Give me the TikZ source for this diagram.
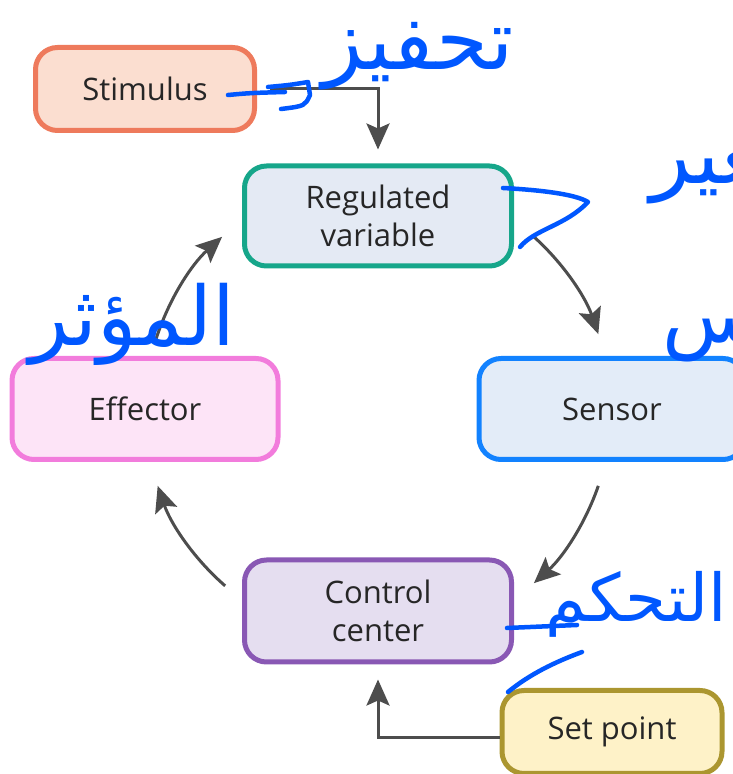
\documentclass[tikz,border=0pt]{standalone}
\usepackage{fontspec}
\setmainfont{Open Sans}
\newfontfamily\arabicfont[Script=Arabic]{DejaVu Sans}
\TeXXeTstate=1
\usetikzlibrary{arrows.meta}
\begin{document}
\begin{tikzpicture}[x=1pt, y=1pt, font=\fontsize{31}{38}\selectfont,
  box/.style={draw, line width=5pt, rounded corners=22pt, align=center,
    text=black!85, inner sep=0pt},
  arr/.style={draw=flow, line width=3pt,
    -{Stealth[length=26pt,width=23pt,inset=5pt]}},
  ink/.style={draw=pen, line width=4.5pt, line cap=round, line join=round},
  scrawl/.style={text=pen, inner sep=0pt}]
\definecolor{flow}{RGB}{77,77,77}
\definecolor{pen}{RGB}{0,87,255}
\clip (0,0) rectangle (733,774);
% the boxes of the loop
\node[box, fill={rgb,255:red,251;green,222;blue,208}, draw={rgb,255:red,238;green,122;blue,92},
  minimum width=219, minimum height=83] (stim) at (145,685) {Stimulus};
\node[box, fill={rgb,255:red,228;green,234;blue,244}, draw={rgb,255:red,22;green,166;blue,138},
  minimum width=267, minimum height=100] (reg) at (378,558) {Regulated\\variable};
\node[box, fill={rgb,255:red,253;green,228;blue,247}, draw={rgb,255:red,242;green,124;blue,220},
  minimum width=266, minimum height=101] (eff) at (145,365) {Effector};
\node[box, fill={rgb,255:red,227;green,236;blue,248}, draw={rgb,255:red,18;green,130;blue,255},
  minimum width=266, minimum height=101] (sens) at (612,365) {Sensor};
\node[box, fill={rgb,255:red,229;green,222;blue,240}, draw={rgb,255:red,137;green,88;blue,180},
  minimum width=267, minimum height=102] (ctrl) at (378,163) {Control\\center};
\node[box, fill={rgb,255:red,254;green,242;blue,200}, draw={rgb,255:red,171;green,150;blue,48},
  minimum width=220, minimum height=83] (set) at (612,42) {Set point};
% arrows
\coordinate (hub) at (378,364);
\draw[arr, shorten <=13pt, shorten >=14pt] (stim.east) -| (reg.north);
\draw[arr, shorten >=15pt] ([yshift=-6pt]set.west) -| (ctrl.south);
\foreach \a/\b in {48/19, -19/-48, -131/-161, 163/132}
  \draw[arr] ([shift={(\a:233)}]hub) arc[start angle=\a, end angle=\b, radius=233];
% notes in ink
\draw[ink] (228,679) .. controls (250,681) .. (285,682);
\draw[ink] (268,687) .. controls (290,689) .. (308,692) -- (310,679)
  .. controls (305,668) .. (281,665);
\draw[ink] (503,586) .. controls (540,584) and (575,580) .. (588,572)
  .. controls (565,548) and (535,545) .. (520,527);
\draw[ink] (507,146) -- (577,149);
\draw[ink] (508,82) .. controls (530,100) and (555,112) .. (582,122);
\node[scrawl, font=\arabicfont\fontsize{84}{90}\selectfont] (tahfiz) at (418,718) {\beginR تحفيز\endR};
\node[scrawl, font=\arabicfont\fontsize{84}{90}\selectfont, anchor=west] (mutaghayyir) at (650,612) {\beginR المتغير\endR};
\node[scrawl, font=\arabicfont\fontsize{80}{90}\selectfont, anchor=west] (muhis) at (662,452) {\beginR المحس\endR};
\node[scrawl, font=\arabicfont\fontsize{82}{90}\selectfont] (muathir) at (132,450) {\beginR المؤثر\endR};
\node[scrawl, font=\arabicfont\fontsize{66}{80}\selectfont] (tahakkum) at (636,170) {\beginR التحكم\endR};
\end{tikzpicture}
\end{document}
